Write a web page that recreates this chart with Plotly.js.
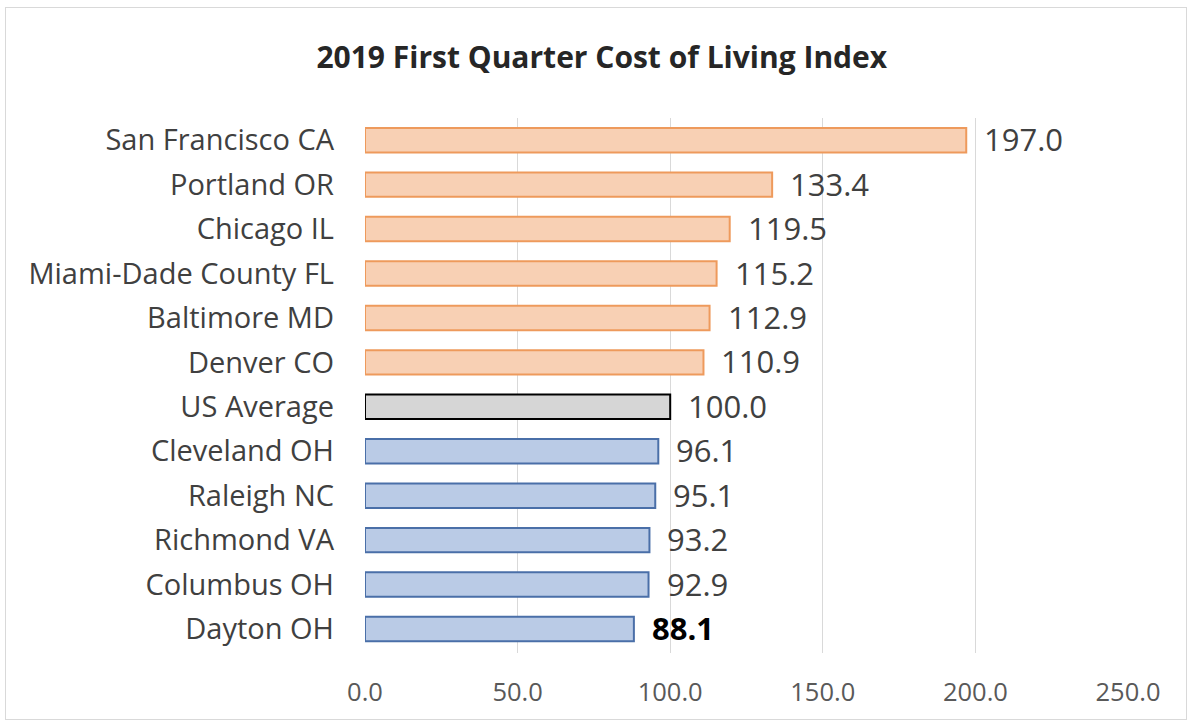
<!DOCTYPE html>
<html>
<head>
<meta charset="utf-8">
<script src="https://cdn.plot.ly/plotly-3.0.1.min.js"></script>
<style>
html,body{margin:0;padding:0;background:#fff;}
#frame{position:absolute;left:5px;top:7px;width:1182px;height:713px;border:1px solid #d9d9d9;box-sizing:border-box;pointer-events:none;z-index:5;}
#chart{width:1194px;height:726px;}
</style>
</head>
<body>
<div id="frame"></div>
<div id="chart"></div>
<script>
const cities = ["San Francisco CA","Portland OR","Chicago IL","Miami-Dade County FL","Baltimore MD","Denver CO","US Average","Cleveland OH","Raleigh NC","Richmond VA","Columbus OH","Dayton OH"];
const costIndex = [197.0,133.4,119.5,115.2,112.9,110.9,100.0,96.1,95.1,93.2,92.9,88.1];
const xTicks = [0,50,100,150,200,250];
const xTickLabels = ["0.0","50.0","100.0","150.0","200.0","250.0"];

const fills = costIndex.map(v => v > 100 ? "#F8D0B4" : (v === 100 ? "#D6D6D6" : "#BACBE6"));
const lines = costIndex.map(v => v > 100 ? "#EE9A5C" : (v === 100 ? "#000000" : "#4A6FA8"));

const trace = {
  type: "bar",
  orientation: "h",
  y: cities,
  x: costIndex,
  marker: {color: fills, line: {color: lines, width: 2}},
  hoverinfo: "none",
  width: 0.55
};

const annotations = cities.map((c, i) => ({
  x: costIndex[i], y: c, xref: "x", yref: "y",
  text: costIndex[i].toFixed(1),
  showarrow: false, xanchor: "left", yanchor: "middle",
  xshift: 16, yshift: 1,
  font: {family: "'Open Sans', sans-serif", size: 31,
         color: c === "Dayton OH" ? "#000000" : "#404040",
         weight: c === "Dayton OH" ? "bold" : "normal"}
}));

const layout = {
  width: 1194, height: 726,
  margin: {l: 365, r: 66, t: 118, b: 73},
  paper_bgcolor: "#ffffff", plot_bgcolor: "#ffffff",
  title: {text: "<b>2019 First Quarter Cost of Living Index</b>", x: 0.504, xanchor: "center", y: 0.921, yanchor: "middle",
          font: {family: "'Open Sans', sans-serif", size: 30, color: "#262626"}},
  xaxis: {range: [0, 250], tickvals: xTicks, ticktext: xTickLabels, showgrid: true, gridcolor: "#D9D9D9", gridwidth: 1,
          zeroline: false, showline: false, ticks: "", ticklabelstandoff: 21,
          tickfont: {family: "'Open Sans', sans-serif", size: 25.5, color: "#595959"}, fixedrange: true},
  yaxis: {type: "category", autorange: "reversed", showgrid: false, zeroline: false, showline: false, ticks: "",
          ticklabelstandoff: 30,
          tickfont: {family: "'Open Sans', sans-serif", size: 29, color: "#404040"}, fixedrange: true},
  annotations: annotations,
  showlegend: false,
  bargap: 0.45
};

Plotly.newPlot("chart", [trace], layout, {displayModeBar: false, staticPlot: true});
</script>
</body>
</html>
